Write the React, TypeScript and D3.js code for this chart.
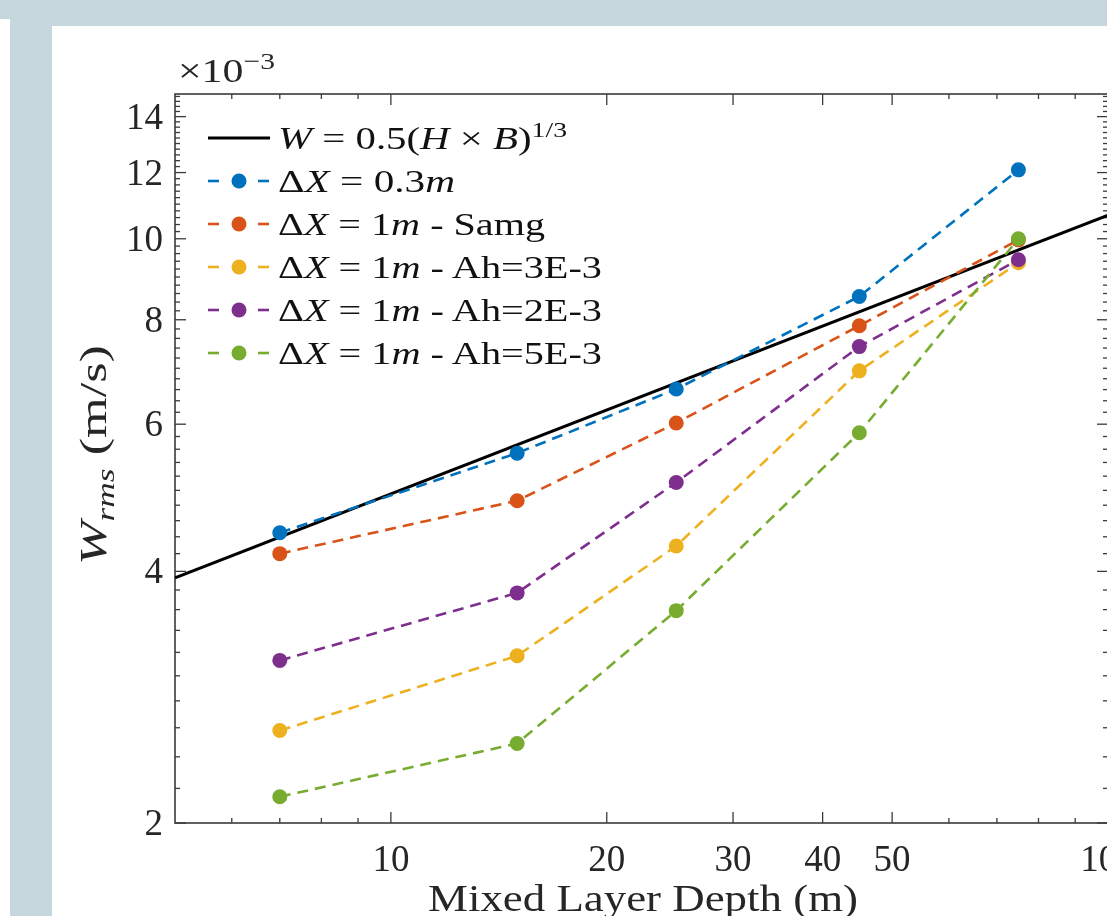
import React, { useRef, useEffect } from "react";
import * as d3 from "d3";

// mixed layer depth (m) for the simulated runs
const depths = [7, 15, 25, 45, 75];
// W_rms in units of 1e-3 m/s
const dx03 = [4.45, 5.54, 6.61, 8.53, 12.09];
const dx1Samg = [4.2, 4.86, 6.02, 7.87, 9.97];
const dx1Ah3 = [2.58, 3.17, 4.29, 6.95, 9.36];
const dx1Ah2 = [3.13, 3.77, 5.11, 7.43, 9.44];
const dx1Ah5 = [2.15, 2.49, 3.59, 5.86, 10.0];
// scaling law end points (straight in log-log)
const lawDepths = [5, 100];
const lawW = [3.93, 10.67];

const xMajor = [10, 20, 30, 40, 50, 100];
const xMinor = [6, 7, 8, 9, 60, 70, 80, 90];
const yMajor = [2, 4, 6, 8, 10, 12, 14];

const seriesNames = ["0.3", "Samg", "Ah=3E-3", "Ah=2E-3", "Ah=5E-3"];

const App = () => {
  const svgRef = useRef(null);

  useEffect(() => {
    const svg = d3.select(svgRef.current);
    svg.selectAll("*").remove();

    const font = "'Liberation Serif', 'Times New Roman', serif";
    const axisColor = "#3a3a3a";

    // background slide
    svg.append("rect").attr("width", 1107).attr("height", 916).attr("fill", "#c6d6dd");
    svg.append("rect").attr("x", 0).attr("y", 19).attr("width", 10).attr("height", 900).attr("fill", "#ffffff");
    svg.append("rect").attr("x", 52).attr("y", 26).attr("width", 1100).attr("height", 900).attr("fill", "#ffffff");

    const x = d3.scaleLog().domain([5, 100]).range([175, 1108]);
    const y = d3.scaleLog().domain([2, 14.9]).range([823, 94]);

    const [x0, x1] = x.range();
    const [y0, y1] = y.range();

    svg
      .append("defs")
      .append("clipPath")
      .attr("id", "plotclip")
      .append("rect")
      .attr("x", x0)
      .attr("y", y1)
      .attr("width", x1 - x0)
      .attr("height", y0 - y1);

    // box
    svg
      .append("rect")
      .attr("x", x0)
      .attr("y", y1)
      .attr("width", x1 - x0)
      .attr("height", y0 - y1)
      .attr("fill", "none")
      .attr("stroke", axisColor)
      .attr("stroke-width", 1.6);

    const ticks = svg.append("g").attr("stroke", axisColor).attr("stroke-width", 1.3);

    // x ticks, bottom and top, pointing inward
    xMajor.forEach((v) => {
      ticks.append("line").attr("x1", x(v)).attr("x2", x(v)).attr("y1", y0).attr("y2", y0 - 11);
      ticks.append("line").attr("x1", x(v)).attr("x2", x(v)).attr("y1", y1).attr("y2", y1 + 11);
    });
    xMinor.forEach((v) => {
      ticks.append("line").attr("x1", x(v)).attr("x2", x(v)).attr("y1", y0).attr("y2", y0 - 5);
      ticks.append("line").attr("x1", x(v)).attr("x2", x(v)).attr("y1", y1).attr("y2", y1 + 5);
    });

    // y ticks, left and right
    const yMinor = d3.range(2, 14.9, 0.2).filter((v) => Math.abs(v - Math.round(v / 2) * 2) > 0.05);
    yMajor.forEach((v) => {
      ticks.append("line").attr("x1", x0).attr("x2", x0 + 11).attr("y1", y(v)).attr("y2", y(v));
      ticks.append("line").attr("x1", x1).attr("x2", x1 - 11).attr("y1", y(v)).attr("y2", y(v));
    });
    yMinor.forEach((v) => {
      ticks.append("line").attr("x1", x0).attr("x2", x0 + 5).attr("y1", y(v)).attr("y2", y(v));
      ticks.append("line").attr("x1", x1).attr("x2", x1 - 5).attr("y1", y(v)).attr("y2", y(v));
    });

    // tick labels
    svg
      .append("g")
      .selectAll("text")
      .data(xMajor)
      .join("text")
      .attr("x", (d) => x(d))
      .attr("y", 871)
      .attr("text-anchor", "middle")
      .attr("font-family", font)
      .attr("font-size", 37)
      .attr("fill", "#262626")
      .text((d) => d);

    svg
      .append("g")
      .selectAll("text")
      .data(yMajor)
      .join("text")
      .attr("x", 163)
      .attr("y", (d) => y(d) + 12)
      .attr("text-anchor", "end")
      .attr("font-family", font)
      .attr("font-size", 37)
      .attr("fill", "#262626")
      .text((d) => d);

    // exponent label
    const expo = svg
      .append("text")
      .attr("x", 178)
      .attr("y", 82)
      .attr("font-family", font)
      .attr("font-size", 34)
      .attr("fill", "#262626")
      .attr("textLength", 97)
      .attr("lengthAdjust", "spacingAndGlyphs");
    expo.append("tspan").text("×10");
    expo.append("tspan").attr("dy", -13).attr("font-size", 24).text("−3");

    // axis titles
    svg
      .append("text")
      .attr("x", 428)
      .attr("y", 911)
      .attr("font-family", font)
      .attr("font-size", 37)
      .attr("fill", "#262626")
      .attr("textLength", 430)
      .attr("lengthAdjust", "spacingAndGlyphs")
      .text("Mixed Layer Depth (m)");

    const ylab = svg
      .append("text")
      .attr("transform", "translate(106,565) rotate(-90)")
      .attr("font-family", font)
      .attr("font-size", 37)
      .attr("fill", "#262626")
      .attr("textLength", 220)
      .attr("lengthAdjust", "spacingAndGlyphs");
    ylab.append("tspan").attr("font-style", "italic").text("W");
    ylab.append("tspan").attr("font-style", "italic").attr("font-size", 25).attr("dy", 8).text("rms");
    ylab.append("tspan").attr("dy", -8).text(" (m/s)");

    const plot = svg.append("g").attr("clip-path", "url(#plotclip)");

    // scaling law
    const line = d3
      .line()
      .x((d) => x(d[0]))
      .y((d) => y(d[1]));

    plot
      .append("path")
      .attr("d", line(d3.zip(lawDepths, lawW)))
      .attr("fill", "none")
      .attr("stroke", "#000")
      .attr("stroke-width", 3);

    const series = [dx03, dx1Samg, dx1Ah3, dx1Ah2, dx1Ah5];
    const colors = ["#0072BD", "#D95319", "#EDB120", "#7E2F8E", "#77AC30"];

    series.forEach((vals, i) => {
      const pts = d3.zip(depths, vals);
      plot
        .append("path")
        .attr("d", line(pts))
        .attr("fill", "none")
        .attr("stroke", colors[i])
        .attr("stroke-width", 2.6)
        .attr("stroke-dasharray", "11,7");
      plot
        .append("g")
        .selectAll("circle")
        .data(pts)
        .join("circle")
        .attr("cx", (d) => x(d[0]))
        .attr("cy", (d) => y(d[1]))
        .attr("r", 7.5)
        .attr("fill", colors[i]);
    });

    // legend
    const legend = svg.append("g").attr("font-family", font).attr("fill", "#111");
    const rowY = (i) => 138 + i * 43;
    const textX = 278;
    const rowWidths = [289, 177, 267, 324, 324, 324];

    legend
      .append("line")
      .attr("x1", 208)
      .attr("x2", 270)
      .attr("y1", rowY(0))
      .attr("y2", rowY(0))
      .attr("stroke", "#000")
      .attr("stroke-width", 3);
    const t0 = legend
      .append("text")
      .attr("x", textX)
      .attr("y", rowY(0) + 11)
      .attr("font-size", 31)
      .attr("textLength", rowWidths[0])
      .attr("lengthAdjust", "spacingAndGlyphs");
    t0.append("tspan").attr("font-style", "italic").text("W");
    t0.append("tspan").text(" = 0.5(");
    t0.append("tspan").attr("font-style", "italic").text("H");
    t0.append("tspan").text(" × ");
    t0.append("tspan").attr("font-style", "italic").text("B");
    t0.append("tspan").text(")");
    t0.append("tspan").attr("dy", -12).attr("font-size", 21).text("1/3");

    seriesNames.forEach((name, i) => {
      const yy = rowY(i + 1);
      const g = legend.append("g");
      g.append("line").attr("x1", 208).attr("x2", 219).attr("y1", yy).attr("y2", yy).attr("stroke", colors[i]).attr("stroke-width", 2.6);
      g.append("line").attr("x1", 258).attr("x2", 269).attr("y1", yy).attr("y2", yy).attr("stroke", colors[i]).attr("stroke-width", 2.6);
      g.append("circle").attr("cx", 239).attr("cy", yy).attr("r", 7.5).attr("fill", colors[i]);
      const t = g
        .append("text")
        .attr("x", textX)
        .attr("y", yy + 11)
        .attr("font-size", 31)
        .attr("textLength", rowWidths[i + 1])
        .attr("lengthAdjust", "spacingAndGlyphs");
      t.append("tspan").text("Δ");
      t.append("tspan").attr("font-style", "italic").text("X");
      if (i === 0) {
        t.append("tspan").text(" = 0.3");
        t.append("tspan").attr("font-style", "italic").text("m");
      } else {
        t.append("tspan").text(" = 1");
        t.append("tspan").attr("font-style", "italic").text("m");
        t.append("tspan").text(" - " + name);
      }
    });
  }, []);

  return (
    <div style={{ position: "fixed", left: 0, top: 0 }}>
      <svg ref={svgRef} width={1107} height={916} style={{ display: "block" }}></svg>
    </div>
  );
};

export default App;
